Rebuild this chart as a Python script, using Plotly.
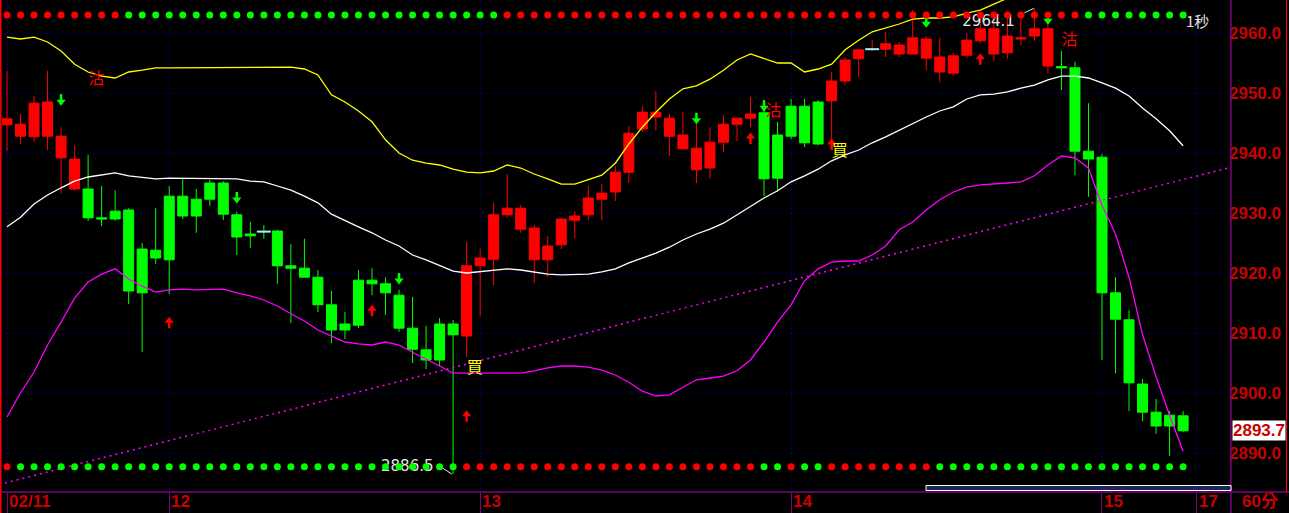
import plotly.graph_objects as go

# ---------------- data ----------------
bar_open = [2944.7, 2942.8, 2942.7, 2942.8, 2939.2, 2934.0, 2934.0, 2929.2, 2930.3, 2930.5,
            2924.0, 2923.8, 2932.8, 2932.8, 2932.3, 2935.0, 2935.0, 2929.7, 2926.5, 2926.9,
            2927.0, 2921.2, 2920.8, 2919.3, 2914.7, 2911.5, 2918.8, 2918.8, 2918.2, 2916.3,
            2910.8, 2907.2, 2911.5, 2911.5, 2909.5, 2921.2, 2922.3, 2929.7, 2927.3, 2922.2,
            2922.2, 2924.7, 2928.8, 2929.7, 2932.3, 2933.5, 2936.8, 2944.0, 2946.0, 2942.8,
            2940.7, 2937.2, 2937.5, 2941.8, 2944.8, 2945.8, 2946.7, 2943.0, 2947.8, 2947.8,
            2948.5, 2948.7, 2952.0, 2955.7, 2957.3, 2957.3, 2956.5, 2956.5, 2955.8, 2953.5,
            2953.3, 2956.3, 2958.7, 2956.5, 2956.7, 2959.0, 2959.5, 2954.5, 2954.4, 2954.2,
            2940.3, 2939.3, 2916.7, 2912.2, 2901.5, 2896.8, 2896.3, 2896.2]
bar_high = [2953.7, 2946.5, 2949.5, 2953.7, 2944.3, 2941.3, 2939.7, 2934.5, 2933.8, 2930.8,
            2925.0, 2930.8, 2934.5, 2935.7, 2934.0, 2935.5, 2935.3, 2930.2, 2928.5, 2928.0,
            2927.2, 2924.8, 2925.7, 2920.5, 2917.0, 2913.5, 2920.5, 2920.8, 2919.3, 2917.2,
            2916.0, 2911.2, 2912.5, 2912.2, 2925.2, 2924.0, 2931.7, 2936.5, 2931.3, 2928.0,
            2926.2, 2929.2, 2930.3, 2934.5, 2934.8, 2937.8, 2944.5, 2947.8, 2950.3, 2946.5,
            2946.8, 2945.0, 2944.3, 2946.3, 2945.8, 2949.3, 2948.0, 2945.2, 2949.0, 2949.0,
            2948.8, 2953.5, 2956.0, 2957.2, 2958.8, 2960.2, 2958.5, 2963.8, 2959.5, 2959.2,
            2956.7, 2960.0, 2963.3, 2962.2, 2963.0, 2962.5, 2964.1, 2962.2, 2957.0, 2955.2,
            2948.3, 2939.8, 2919.3, 2913.8, 2902.3, 2899.0, 2897.0, 2897.0]
bar_low = [2940.3, 2941.5, 2941.8, 2940.5, 2933.3, 2933.7, 2928.7, 2927.8, 2928.7, 2914.8,
           2906.8, 2921.5, 2916.5, 2929.0, 2926.7, 2931.2, 2928.8, 2923.0, 2924.2, 2925.7,
           2918.2, 2911.7, 2919.3, 2913.5, 2908.3, 2909.0, 2910.8, 2916.3, 2913.0, 2910.2,
           2905.0, 2904.0, 2904.5, 2886.5, 2906.0, 2912.8, 2918.0, 2929.2, 2926.7, 2918.3,
           2919.3, 2924.0, 2925.8, 2928.8, 2928.8, 2932.0, 2935.0, 2943.5, 2943.8, 2939.5,
           2940.7, 2935.0, 2935.7, 2940.2, 2942.0, 2944.3, 2932.8, 2933.5, 2942.3, 2941.0,
           2941.3, 2941.7, 2951.3, 2952.7, 2957.0, 2956.0, 2956.0, 2956.5, 2953.8, 2951.8,
           2952.8, 2955.8, 2958.3, 2955.3, 2955.7, 2958.0, 2958.7, 2953.3, 2950.5, 2936.3,
           2932.7, 2905.5, 2903.3, 2897.0, 2895.3, 2893.2, 2889.5, 2893.5]
bar_close = [2945.7, 2944.8, 2948.3, 2948.5, 2942.8, 2939.0, 2929.2, 2929.0, 2929.0, 2917.0,
             2916.7, 2922.5, 2922.2, 2929.5, 2929.5, 2932.3, 2929.8, 2926.0, 2926.2, 2926.9,
             2921.2, 2920.8, 2919.3, 2914.7, 2910.5, 2910.5, 2911.3, 2918.2, 2916.7, 2910.8,
             2907.3, 2905.5, 2905.5, 2909.7, 2921.2, 2922.5, 2929.7, 2930.8, 2930.8, 2927.5,
             2924.5, 2929.0, 2929.5, 2932.5, 2933.3, 2936.8, 2943.3, 2946.8, 2946.8, 2945.8,
             2943.0, 2940.8, 2941.8, 2944.8, 2945.8, 2946.5, 2935.7, 2935.8, 2942.8, 2941.7,
             2941.5, 2952.0, 2955.5, 2957.2, 2957.3, 2958.2, 2958.0, 2959.2, 2959.0, 2956.0,
             2956.2, 2958.8, 2960.7, 2960.7, 2959.5, 2959.2, 2960.7, 2960.7, 2954.2, 2940.3,
             2939.0, 2916.7, 2912.3, 2901.7, 2896.8, 2894.5, 2894.5, 2893.7]
# candle colour state, as runs of (state, number of bars)
candle_runs = [("r", 6), ("g", 28), ("r", 22), ("g", 5), ("r", 17), ("g", 10)]
doji_bars = [19, 64]

upper_band = [2959.3, 2959.0, 2959.3, 2958.5, 2957.0, 2954.8, 2953.5, 2952.8, 2952.5, 2953.5,
              2953.8, 2954.2, 2954.2, 2954.2, 2954.2, 2954.2, 2954.2, 2954.2, 2954.2, 2954.3,
              2954.3, 2954.3, 2954.0, 2953.0, 2949.7, 2948.5, 2947.0, 2945.2, 2942.2, 2940.0,
              2938.8, 2938.3, 2938.0, 2937.3, 2936.8, 2936.7, 2937.0, 2938.0, 2937.5, 2936.5,
              2935.7, 2934.8, 2934.8, 2935.5, 2936.3, 2938.3, 2941.5, 2944.3, 2946.8, 2949.0,
              2950.7, 2951.2, 2952.3, 2953.8, 2955.5, 2956.5, 2955.8, 2955.0, 2955.0, 2953.5,
              2954.0, 2954.8, 2957.2, 2958.8, 2960.2, 2960.8, 2961.5, 2962.3, 2962.5, 2962.5,
              2962.7, 2963.3, 2963.8, 2964.8, 2965.8, 2966.5, 2967.0, 2967.4, 2967.8, 2968.5,
              2969.0, 2970.0, 2971.0, 2972.0, 2973.0, 2973.5, 2974.0, 2974.5]
mid_band = [2927.7, 2929.3, 2931.5, 2933.0, 2934.2, 2935.3, 2936.0, 2936.3, 2936.7, 2936.2,
            2936.0, 2935.7, 2935.8, 2935.8, 2935.8, 2935.8, 2935.8, 2935.7, 2935.3, 2935.2,
            2934.5, 2933.8, 2932.8, 2931.7, 2929.8, 2928.7, 2927.7, 2926.7, 2925.5, 2924.5,
            2923.0, 2922.2, 2921.2, 2920.3, 2920.0, 2920.2, 2920.5, 2920.7, 2920.5, 2920.2,
            2919.8, 2919.7, 2919.7, 2919.8, 2920.2, 2920.7, 2921.7, 2922.5, 2923.3, 2924.3,
            2925.5, 2926.5, 2927.3, 2928.3, 2929.7, 2931.2, 2932.5, 2933.7, 2935.2, 2936.2,
            2937.3, 2938.7, 2939.7, 2940.5, 2941.7, 2942.7, 2943.8, 2945.0, 2946.0, 2947.0,
            2947.7, 2949.0, 2949.7, 2949.8, 2950.2, 2950.8, 2951.3, 2952.2, 2952.8, 2952.8,
            2952.5, 2951.7, 2950.8, 2949.5, 2947.5, 2945.7, 2943.7, 2941.2]
lower_band = [2896.0, 2900.0, 2903.5, 2908.0, 2911.8, 2915.8, 2918.5, 2919.8, 2920.7, 2919.0,
              2917.8, 2916.8, 2917.2, 2917.3, 2917.2, 2917.2, 2917.3, 2916.7, 2916.2, 2915.5,
              2914.5, 2913.2, 2912.0, 2910.5, 2909.5, 2908.5, 2908.2, 2908.0, 2908.5, 2908.0,
              2906.8, 2905.7, 2904.5, 2903.3, 2903.3, 2903.3, 2903.3, 2903.3, 2903.3, 2903.7,
              2904.2, 2904.5, 2904.5, 2904.3, 2903.8, 2903.0, 2901.8, 2900.3, 2899.5, 2899.7,
              2901.0, 2902.2, 2902.5, 2902.8, 2903.7, 2905.5, 2908.5, 2911.8, 2914.7, 2918.7,
              2920.7, 2921.8, 2922.0, 2922.0, 2923.0, 2924.5, 2927.2, 2928.5, 2930.5, 2932.2,
              2933.5, 2934.3, 2934.7, 2934.8, 2935.0, 2935.2, 2936.2, 2938.0, 2939.5, 2939.2,
              2937.5, 2931.3, 2926.5, 2919.3, 2909.7, 2902.7, 2896.3, 2890.3]

trend_bars = [-0.15, 90.3]
trend_vals = [2885.0, 2937.5]

top_dot_level = 2963.0
bottom_dot_level = 2887.7
top_dot_runs = [("r", 9), ("g", 28), ("r", 43), ("g", 8)]
bottom_dot_runs = [("r", 1), ("g", 33), ("r", 22), ("g", 2), ("r", 1), ("g", 2), ("r", 8), ("g", 19)]

buy_arrow_bars = [12, 27, 34, 55, 61, 72]
buy_arrow_vals = [2911.8, 2913.8, 2896.2, 2942.5, 2941.5, 2955.7]
sell_arrow_bars = [4, 17, 29, 51, 56, 68, 77]
sell_arrow_vals = [2948.8, 2932.5, 2919.0, 2945.7, 2947.8, 2961.8, 2962.3]

sell_label_bars = [6.6, 56.7, 78.6]
sell_label_vals = [2952.2, 2946.8, 2958.7]
buy_label_bars = [34.6, 61.6]
buy_label_vals = [2904.0, 2940.2]

date_tick_bars = [0, 12, 35, 58, 81, 88]
date_tick_labels = ["02/11", "12", "13", "14", "15", "17"]
price_ticks = [2890, 2900, 2910, 2920, 2930, 2940, 2950, 2960]
period_label = "60分"
interval_label = "1秒"

# ---------------- styling ----------------
RED = "#ff0000"
GREEN = "#00ff00"
AXIS_RED = "#c80000"
PURPLE = "#800080"
GRID = "#0000b4"
X_RANGE = [-0.37, 90.543]
Y_RANGE = [2883.5, 2965.5]


def expand(runs):
    out = []
    for state, n in runs:
        out += [state] * n
    return out


idx = list(range(len(bar_open)))
candle_state = expand(candle_runs)
colour_of = {"r": RED, "g": GREEN}

fig = go.Figure()

# candles (one trace per colour state)
for key in ("r", "g"):
    col = colour_of[key]
    sel = [i for i in idx if candle_state[i] == key]
    fig.add_trace(go.Candlestick(
        x=sel,
        open=[bar_open[i] for i in sel], high=[bar_high[i] for i in sel],
        low=[bar_low[i] for i in sel], close=[bar_close[i] for i in sel],
        increasing=dict(line=dict(color=col, width=1), fillcolor=col),
        decreasing=dict(line=dict(color=col, width=1), fillcolor=col),
        whiskerwidth=0, hoverinfo="skip", showlegend=False))

# doji body lines
fig.add_trace(go.Scatter(
    x=doji_bars, y=[bar_close[i] for i in doji_bars], mode="markers",
    marker=dict(symbol="line-ew", size=10, line=dict(color="#9ff5ff", width=2)),
    hoverinfo="skip", showlegend=False))

# bands
for vals, col in ((upper_band, "#ffff00"), (mid_band, "#ffffff"), (lower_band, "#ff00ff")):
    fig.add_trace(go.Scatter(x=idx, y=vals, mode="lines", line=dict(color=col, width=1.3),
                             hoverinfo="skip", showlegend=False))

# dotted trend line
fig.add_trace(go.Scatter(x=trend_bars, y=trend_vals, mode="lines",
                         line=dict(color="#ff00ff", width=1.5, dash="2px,4px"),
                         hoverinfo="skip", showlegend=False))

# arrows: head + shaft
fig.add_trace(go.Scatter(x=buy_arrow_bars, y=[v + 0.25 for v in buy_arrow_vals], mode="markers",
                         marker=dict(symbol="triangle-up", size=8, color=RED),
                         hoverinfo="skip", showlegend=False))
fig.add_trace(go.Scatter(x=buy_arrow_bars, y=[v - 0.42 for v in buy_arrow_vals], mode="markers",
                         marker=dict(symbol="line-ns", size=5, line=dict(color=RED, width=2.5)),
                         hoverinfo="skip", showlegend=False))
fig.add_trace(go.Scatter(x=sell_arrow_bars, y=[v - 0.25 for v in sell_arrow_vals], mode="markers",
                         marker=dict(symbol="triangle-down", size=8, color=GREEN),
                         hoverinfo="skip", showlegend=False))
fig.add_trace(go.Scatter(x=sell_arrow_bars, y=[v + 0.42 for v in sell_arrow_vals], mode="markers",
                         marker=dict(symbol="line-ns", size=5, line=dict(color=GREEN, width=2.5)),
                         hoverinfo="skip", showlegend=False))

# signal labels
fig.add_trace(go.Scatter(x=sell_label_bars, y=sell_label_vals, mode="text",
                         text=["沽"] * len(sell_label_bars),
                         textfont=dict(family="Noto Sans CJK TC", size=16, color=RED),
                         hoverinfo="skip", showlegend=False))
fig.add_trace(go.Scatter(x=buy_label_bars, y=buy_label_vals, mode="text",
                         text=["買"] * len(buy_label_bars),
                         textfont=dict(family="Noto Sans CJK TC", size=16, color="#ffff00"),
                         hoverinfo="skip", showlegend=False))

# high / low markers
hi = max(idx, key=lambda i: bar_high[i])
lo = min(idx, key=lambda i: bar_low[i])
fig.add_trace(go.Scatter(x=[hi - 1.45, lo - 1.45], y=[bar_high[hi] - 2.25, bar_low[lo] + 1.2],
                         mode="text", textposition="middle left",
                         text=[f"{bar_high[hi]:.1f}", f"{bar_low[lo]:.1f}"],
                         textfont=dict(family="DejaVu Sans", size=15, color="#e6e6e6"),
                         hoverinfo="skip", showlegend=False))
fig.add_trace(go.Scatter(x=[hi - 0.75, hi - 0.05, None, lo - 0.78, lo - 0.1],
                         y=[bar_high[hi] - 0.75, bar_high[hi], None, bar_low[lo] + 1.0, bar_low[lo]],
                         mode="lines", line=dict(color="#e6e6e6", width=1),
                         hoverinfo="skip", showlegend=False))

# dot rows
for level, runs in ((top_dot_level, top_dot_runs), (bottom_dot_level, bottom_dot_runs)):
    states = expand(runs)
    fig.add_trace(go.Scatter(x=idx, y=[level] * len(idx), mode="markers",
                             marker=dict(size=7, color=[colour_of[s] for s in states]),
                             hoverinfo="skip", showlegend=False))

# ---------------- layout ----------------
W, H = 1289, 513
ML, MR, MT, MB = 2, 58, 0, 21
pw, ph = W - ML - MR, H - MT - MB

fig.update_layout(
    width=W, height=H, margin=dict(l=ML, r=MR, t=MT, b=MB, autoexpand=False),
    paper_bgcolor="black", plot_bgcolor="black",
    showlegend=False, hovermode=False,
    boxgap=0.26, boxgroupgap=0,
    xaxis=dict(range=X_RANGE, tickvals=date_tick_bars, showticklabels=False, automargin=False,
               ticks="outside", ticklen=21, tickcolor=PURPLE, tickwidth=1,
               showgrid=True, gridcolor=GRID, griddash="1px,3px", gridwidth=1,
               zeroline=False, showline=False, rangeslider=dict(visible=False), fixedrange=True),
    yaxis=dict(range=Y_RANGE, side="right", tickvals=price_ticks, automargin=False,
               ticktext=[f"{v:.1f}" for v in price_ticks],
               tickfont=dict(family="Liberation Sans", size=17, color=AXIS_RED, weight="bold"),
               ticks="", ticklabelstandoff=-3, showgrid=True, gridcolor=GRID, griddash="1px,3px",
               gridwidth=1, zeroline=False, showline=False, fixedrange=True),
)

# frame lines
below = -MB / ph
fig.add_shape(type="line", xref="paper", yref="paper", x0=-ML / pw, x1=(W - ML) / pw, y0=0, y1=0,
              line=dict(color=PURPLE, width=1.5))
fig.add_shape(type="line", xref="paper", yref="paper", x0=1, x1=1, y0=below, y1=1,
              line=dict(color=PURPLE, width=1.5))
fig.add_shape(type="line", xref="paper", yref="paper", x0=-1.2 / pw, x1=-1.2 / pw, y0=below, y1=1,
              line=dict(color=RED, width=1.5))
fig.add_shape(type="line", xref="paper", yref="paper", x0=(W - 2.5 - ML) / pw, x1=(W - 2.5 - ML) / pw,
              y0=0, y1=1, line=dict(color=RED, width=1))
# scroll bar
fig.add_shape(type="rect", xref="paper", yref="paper", x0=(926 - ML) / pw, x1=1, y0=1.5 / ph, y1=6.5 / ph,
              line=dict(color="white", width=1), fillcolor="#1c2658")

# date labels (anchored to the bottom edge of the figure)
for b, t in zip(date_tick_bars, date_tick_labels):
    fig.add_annotation(x=b, xref="x", y=below, yref="paper", text=t, showarrow=False,
                       xanchor="left", yanchor="bottom", xshift=0, yshift=0,
                       font=dict(family="Liberation Sans", size=17, color=AXIS_RED, weight="bold"))
fig.add_annotation(x=(1240 - ML) / pw, xref="paper", y=below, yref="paper", text=period_label,
                   showarrow=False, xanchor="left", yanchor="bottom", yshift=0,
                   font=dict(family="Liberation Sans, Noto Sans CJK TC", size=17, color=AXIS_RED, weight="bold"))
# last price box
fig.add_annotation(x=1, xref="paper", y=bar_close[-1], yref="y", text=f"{bar_close[-1]:.1f}",
                   showarrow=False, xanchor="left", yanchor="middle", xshift=1,
                   bgcolor="white", borderpad=0,
                   font=dict(family="Liberation Sans", size=17, color=AXIS_RED, weight="bold"))
# interval label
fig.add_annotation(x=(1197 - ML) / pw, xref="paper", y=1 - 20 / ph, yref="paper", text=interval_label,
                   showarrow=False, xanchor="center", yanchor="middle",
                   font=dict(family="Noto Sans CJK TC", size=15, color="#e6e6e6"))

fig.write_html("out.html", config={"displayModeBar": False},
               post_script="document.body.style.margin='0px';document.body.style.overflow='hidden';")
